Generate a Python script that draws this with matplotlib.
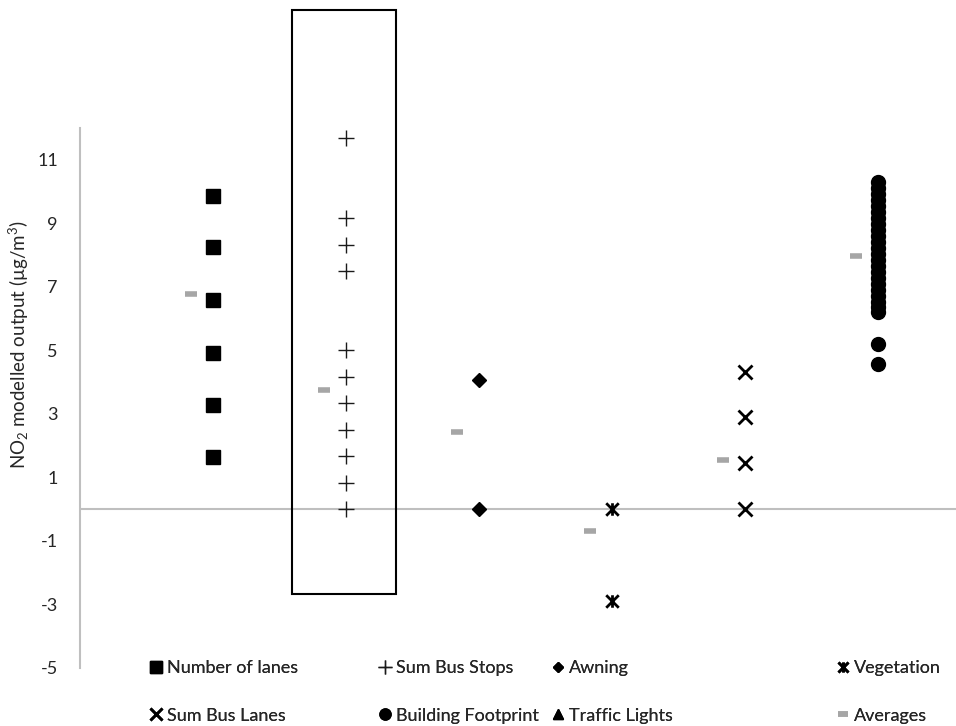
import matplotlib
matplotlib.use("Agg")
from matplotlib import pyplot as plt
from matplotlib.path import Path
from matplotlib.patches import Rectangle

# model output per variable (µg/m3)
lanes = [9.87, 8.24, 6.60, 4.93, 3.29, 1.65]
bus_stops = [11.67, 9.17, 8.33, 7.50, 5.00, 4.17, 3.33, 2.50, 1.67, 0.83, 0.0]
awning = [4.08, 0.0]
vegetation = [0.0, -2.88]
bus_lanes = [4.33, 2.91, 1.46, 0.0]
footprint = [10.31, 10.12, 9.93, 9.74, 9.55, 9.36, 9.17, 8.98, 8.79, 8.60,
             8.41, 8.22, 8.03, 7.84, 7.65, 7.46, 7.27, 7.08, 6.89, 6.70,
             6.51, 6.36, 6.22, 5.21, 4.58]
traffic_lights = []
averages = [6.76, 3.74, 2.44, -0.68, 1.56, 7.98]

yticks = [-5, -3, -1, 1, 3, 5, 7, 9, 11]

plt.rcParams['font.family'] = ['Lato', 'DejaVu Sans']
plt.rcParams['mathtext.default'] = 'regular'
plt.rcParams['axes.unicode_minus'] = False

TEXT = '#262626'
GREY = '#bfbfbf'
AVG = '#a6a6a6'

# Excel style "star": an x with a vertical bar
star = Path([(-1, -1), (1, 1), (-1, 1), (1, -1), (0, -1), (0, 1)],
            [Path.MOVETO, Path.LINETO, Path.MOVETO, Path.LINETO,
             Path.MOVETO, Path.LINETO])

fig = plt.figure(figsize=(9.56, 7.26), dpi=100)
ax = fig.add_axes([80 / 956, 58 / 726, 1 - 80 / 956, 540 / 726])


def column(pos, values):
    return [pos] * len(values), values


h_lanes, = ax.plot(*column(1, lanes), ls='none', marker='s', ms=10.5,
                   color='black', label='Number of lanes')
h_stops, = ax.plot(*column(2, bus_stops), ls='none', marker='+', ms=12,
                   mew=1.0, color='#1a1a1a', label='Sum Bus Stops')
h_awn, = ax.plot(*column(3, awning), ls='none', marker='D', ms=7,
                 color='black', label='Awning')
h_veg, = ax.plot(*column(4, vegetation), ls='none', marker=star, ms=9,
                 mew=2, color='black', label='Vegetation')
h_bl, = ax.plot(*column(5, bus_lanes), ls='none', marker='x', ms=10,
                mew=2, color='black', label='Sum Bus Lanes')
h_fp, = ax.plot(*column(6, footprint), ls='none', marker='o', ms=10,
                color='black', label='Building Footprint')
h_tl, = ax.plot(*column(7, traffic_lights), ls='none', marker='^', ms=9,
                color='black', label='Traffic Lights')
h_avg, = ax.plot([i + 1 - 0.165 for i in range(len(averages))], averages,
                 ls='none', marker='_', ms=9, mew=4, color=AVG,
                 label='Averages')

ax.axhline(0, color=GREY, lw=1.5, zorder=0)

# box highlighting the bus stop column
ax.add_patch(Rectangle((1.594, -2.66), 0.782, 18.36, fill=False,
                       ec='black', lw=1.5, clip_on=False))

ax.set_xlim(0, 6.586)
ax.set_ylim(-5, 12)
ax.set_yticks(yticks)
ax.set_xticks([])
ax.tick_params(axis='y', length=0, pad=16, labelcolor=TEXT, labelsize=13)
for side in ['top', 'right', 'bottom']:
    ax.spines[side].set_visible(False)
ax.spines['left'].set_color(GREY)
ax.spines['left'].set_linewidth(1.5)

fig.text(19 / 956, 1 - 345 / 726, 'NO$_2$ modelled output (µg/m$^3$)',
         rotation=90, ha='center', va='center', color=TEXT, fontsize=13.5)

# legend: four columns of two entries
cols = [(149, [h_lanes, h_bl]), (378, [h_stops, h_fp]),
        (551, [h_awn, h_tl]), (836, [h_veg, h_avg])]
for x, handles in cols:
    leg = fig.legend(handles=handles, loc='upper left',
                     bbox_to_anchor=(x / 956, 1 - 660 / 726),
                     bbox_transform=fig.transFigure, frameon=False,
                     borderpad=0, borderaxespad=0, handlelength=0.78,
                     handletextpad=0.2, labelspacing=1.75, fontsize=13,
                     labelcolor=TEXT, markerscale=0.8)
    fig.add_artist(leg)

fig.savefig('out.png', dpi=100)
